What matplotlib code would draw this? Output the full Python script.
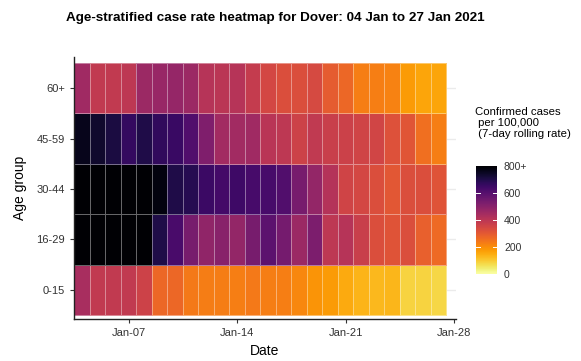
import datetime as dt
import numpy as np
import matplotlib
matplotlib.use("Agg")
import matplotlib.pyplot as plt
import matplotlib.dates as mdates

plt.rcParams['font.family'] = ['Liberation Sans', 'DejaVu Sans']

# data: 7-day rolling case rate per 100,000, 04 Jan .. 27 Jan 2021
dates = [dt.date(2021, 1, 4) + dt.timedelta(days=i) for i in range(24)]
age_groups = ["0-15", "16-29", "30-44", "45-59", "60+"]

rate_0_15 = [440, 385, 385, 385, 360, 270, 270, 235, 230, 230, 225, 235,
             225, 225, 210, 190, 175, 150, 135, 130, 132, 85, 85, 80]
rate_16_29 = [900, 880, 890, 870, 860, 700, 625, 535, 485, 500, 480, 535,
              590, 540, 465, 525, 395, 410, 370, 325, 315, 325, 285, 265]
rate_30_44 = [920, 900, 890, 910, 880, 780, 700, 690, 650, 635, 645, 630,
              630, 610, 535, 480, 415, 355, 345, 325, 305, 325, 325, 315]
rate_45_59 = [760, 735, 710, 665, 700, 670, 655, 610, 520, 450, 450, 455,
              405, 395, 360, 390, 370, 365, 355, 350, 320, 310, 255, 225]
rate_60_plus = [456, 385, 385, 395, 465, 470, 475, 465, 410, 400, 410, 380,
                345, 325, 325, 340, 295, 270, 225, 225, 220, 175, 160, 160]

rates = np.array([rate_0_15, rate_16_29, rate_30_44, rate_45_59, rate_60_plus])
rates = np.clip(rates, 0, 800)

cbar_ticks = [0, 200, 400, 600, 800]
cbar_labels = ["0", "200", "400", "600", "800+"]

fig = plt.figure(figsize=(5.81, 3.61), dpi=100)
ax = fig.add_axes([74 / 581, 1 - 319 / 361, 382 / 581, 262 / 361])

xnum = mdates.date2num(dates)
xedges = np.append(xnum - 0.5, xnum[-1] + 0.5)
yedges = np.arange(len(age_groups) + 1)

for y in range(len(age_groups)):
    ax.axhline(y + 0.5, color='#ebebeb', lw=1, zorder=0)

mesh = ax.pcolormesh(xedges, yedges, rates, cmap='inferno_r', vmin=0, vmax=800,
                     edgecolors=(1, 1, 1, 0.4), linewidth=0.7, zorder=1)

ax.set_xlim(xnum[0] - 0.52, xnum[-1] + 1.13)
ax.set_ylim(-0.08, 5.12)

ax.xaxis.set_major_locator(mdates.DayLocator(bymonthday=[7, 14, 21, 28]))
ax.xaxis.set_major_formatter(mdates.DateFormatter('%b-%d'))
ax.set_yticks(np.arange(len(age_groups)) + 0.5)
ax.set_yticklabels(age_groups)
ax.tick_params(labelsize=8, labelcolor='#333333', length=3, width=0.8, color='#333333')

for s in ['top', 'right']:
    ax.spines[s].set_visible(False)
for s in ['left', 'bottom']:
    ax.spines[s].set_linewidth(1)
    ax.spines[s].set_color('#222222')

ax.set_xlabel("Date", fontsize=10, labelpad=4)
ax.set_ylabel("Age group", fontsize=10, labelpad=7)

fig.text(0.474, 0.95, "Age-stratified case rate heatmap for Dover: 04 Jan to 27 Jan 2021",
         ha='center', va='center', fontsize=9.7, fontweight='bold')

# colour bar
cax = fig.add_axes([476 / 581, 1 - 274 / 361, 21 / 581, 108 / 361])
cb = fig.colorbar(mesh, cax=cax, ticks=cbar_ticks)
cb.outline.set_visible(False)
cb.ax.set_yticklabels(cbar_labels)
cb.ax.tick_params(labelsize=7.5, labelcolor='#333333', length=0, pad=5)
for t in cbar_ticks[1:-1]:
    cb.ax.plot([0, 0.2], [t, t], color='white', lw=0.7, transform=cb.ax.get_yaxis_transform())
    cb.ax.plot([0.8, 1], [t, t], color='white', lw=0.7, transform=cb.ax.get_yaxis_transform())

fig.text(475 / 581, 1 - 107 / 361, "Confirmed cases\n per 100,000\n (7-day rolling rate)",
         ha='left', va='top', fontsize=8.2, linespacing=1.1)

fig.savefig("out.png", dpi=100)
